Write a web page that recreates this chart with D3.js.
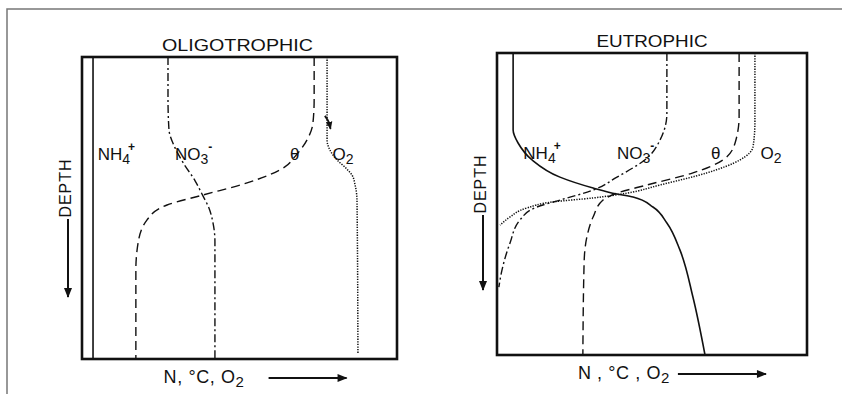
<!DOCTYPE html>
<html>
<head>
<meta charset="utf-8">
<script src="https://cdn.jsdelivr.net/npm/d3@7"></script>
<style>
  body { margin: 0; background: #fff; }
  svg { display: block; }
  text { font-family: "Liberation Sans", Arial, sans-serif; fill: #111; }
</style>
</head>
<body>
<div id="chart"></div>
<script>
// profiles as [concentration (0-100), depth (0-100)]
const oligoNH4 = [[3.5, 0], [3.5, 100]];
const oligoNO3 = [[27.3, 0], [27.3, 14], [27.6, 24], [29.5, 30], [32.1, 35], [35.9, 41], [38.4, 46], [40.3, 50], [41.6, 55], [42.2, 61], [42.2, 100]];
const oligoTheta = [[73.7, 0], [73.7, 14], [73.3, 22], [71.4, 27.5], [67.6, 33], [64.4, 36.4], [52.4, 41.7], [38.4, 45.7], [27, 49], [20.6, 54], [17.8, 61.6], [17.1, 70.5], [17.1, 100]];
const oligoO2 = [[77.8, 0], [77.8, 27.5], [78.7, 30.8], [81, 34.1], [83.8, 36.8], [85.7, 39.1], [86.7, 42.4], [87.3, 47.4], [87.6, 98]];

const eutroNH4 = [[5.2, 0], [5.2, 25.5], [6.8, 29.8], [11.3, 35.4], [20.3, 41.1], [31, 44.7], [38.7, 46.7], [43.9, 47.7], [50.3, 51], [54.8, 56.3], [59, 65.2], [63.2, 80.8], [67.1, 100]];
const eutroNO3 = [[54.8, 0], [54.8, 20], [52.6, 28.8], [48.4, 34.8], [38.7, 41.1], [31, 45.4], [20.3, 48.7], [12.9, 51], [7.4, 55.3], [4.2, 62.9], [1.6, 71.9], [0.6, 77.5]];
const eutroTheta = [[78.1, 0], [78.1, 21], [76.8, 29.8], [72.9, 35.4], [63.2, 39.7], [48.4, 43.7], [38.7, 46.4], [34.2, 48.7], [31, 54.3], [29, 60.9], [28.1, 69.5], [27.7, 100]];
const eutroO2 = [[83.2, 0], [83.2, 23], [82.6, 31], [78.4, 35.4], [67.7, 39.7], [52.6, 43.7], [41.9, 46.4], [31, 48], [18.1, 49.3], [9.7, 51.3], [4.2, 54.3], [1, 57]];

// curve names: [base, subscript, superscript, concentration, depth]
const oligoLabels = [["NH", "4", "+", 5, 34], ["NO", "3", "-", 29.5, 34], ["θ", "", "", 66, 34], ["O", "2", "", 79.5, 34]];
const eutroLabels = [["NH", "4", "+", 8.5, 35], ["NO", "3", "-", 38.7, 35], ["θ", "", "", 69, 35], ["O", "2", "", 85, 35]];

// little hook arrow next to the oligotrophic O2 profile
const oligoHook = [[77.1, 19.5], [78.3, 21.5], [78.9, 23.8]];

const width = 842, height = 394;

const svg = d3.select("#chart").append("svg")
    .attr("width", width)
    .attr("height", height);

const defs = svg.append("defs");
defs.append("marker")
    .attr("id", "head")
    .attr("viewBox", "0 0 10 10")
    .attr("refX", 9).attr("refY", 5)
    .attr("markerWidth", 8).attr("markerHeight", 8)
    .attr("markerUnits", "userSpaceOnUse")
    .attr("orient", "auto")
    .append("path")
    .attr("d", "M0,1 L10,5 L0,9 Z")
    .attr("fill", "#111");
defs.append("marker")
    .attr("id", "bighead")
    .attr("viewBox", "0 0 10 10")
    .attr("refX", 9).attr("refY", 5)
    .attr("markerWidth", 16).attr("markerHeight", 10)
    .attr("markerUnits", "userSpaceOnUse")
    .attr("orient", "auto")
    .append("path")
    .attr("d", "M0,1 L10,5 L0,9 Z")
    .attr("fill", "#111");

// scanned page frame
svg.append("path")
    .attr("d", "M7,394 L7,9 L842,9")
    .attr("fill", "none")
    .attr("stroke", "#777")
    .attr("stroke-width", 1.5);

const styles = {
    nh4: { dash: null, w: 1.6 },
    no3: { dash: "8,3,2,3", w: 1.4 },
    theta: { dash: "9,5", w: 1.4 },
    o2: { dash: "1.3,1.3", w: 1.5 }
};

function drawPanel(p) {
    const x = d3.scaleLinear().domain([0, 100]).range([p.left, p.right]);
    const y = d3.scaleLinear().domain([0, 100]).range([p.top, p.bottom]);
    const g = svg.append("g");

    const line = d3.line()
        .x(d => x(d[0]))
        .y(d => y(d[1]))
        .curve(d3.curveMonotoneY);

    p.series.forEach(s => {
        g.append("path")
            .attr("d", line(s.data))
            .attr("fill", "none")
            .attr("stroke", "#111")
            .attr("stroke-width", styles[s.kind].w)
            .attr("stroke-dasharray", styles[s.kind].dash);
    });

    // frame
    g.append("rect")
        .attr("x", p.left).attr("y", p.top)
        .attr("width", p.right - p.left)
        .attr("height", p.bottom - p.top)
        .attr("fill", "none")
        .attr("stroke", "#111")
        .attr("stroke-width", 2.6);

    g.append("text")
        .attr("x", (p.left + p.right) / 2 + p.titleShift)
        .attr("y", p.top - 6)
        .attr("text-anchor", "middle")
        .attr("font-size", 17)
        .attr("textLength", p.titleLen)
        .attr("lengthAdjust", "spacingAndGlyphs")
        .text(p.title);

    p.labels.forEach(l => {
        const t = g.append("text")
            .attr("x", x(l[3]))
            .attr("y", y(l[4]))
            .attr("font-size", 17);
        t.append("tspan").text(l[0]);
        if (l[1]) {
            t.append("tspan").attr("font-size", 14).attr("dy", 4).text(l[1]);
        }
        if (l[2]) {
            t.append("tspan").attr("font-size", 12)
                .attr("dx", l[2] === "-" ? 0 : -2).attr("dy", -13)
                .attr("font-weight", "bold").text(l[2]);
        }
    });

    // depth label with downward arrow
    g.append("text")
        .attr("transform", "translate(" + (p.left - 11) + "," + (p.top + 131) + ") rotate(-90)")
        .attr("text-anchor", "middle")
        .attr("font-size", 16)
        .attr("letter-spacing", 1)
        .text("DEPTH");
    g.append("line")
        .attr("x1", p.left - 14).attr("x2", p.left - 14)
        .attr("y1", p.top + 162).attr("y2", p.top + p.depthArrow)
        .attr("stroke", "#111")
        .attr("stroke-width", 2)
        .attr("marker-end", "url(#bighead)");

    // concentration label with arrow
    const bx = x(p.xLabelAt);
    const bt = g.append("text")
        .attr("x", bx)
        .attr("y", p.bottom + 24)
        .attr("font-size", 18)
        .attr("letter-spacing", 0.6);
    bt.append("tspan").text(p.xLabel);
    bt.append("tspan").attr("font-size", 15).attr("dy", 4).text("2");
    g.append("line")
        .attr("x1", bx + p.arrowFrom).attr("x2", bx + p.arrowTo)
        .attr("y1", p.bottom + 19).attr("y2", p.bottom + 19)
        .attr("stroke", "#111")
        .attr("stroke-width", 1.8)
        .attr("marker-end", "url(#bighead)");

    if (p.hook) {
        g.append("path")
            .attr("d", d3.line().x(d => x(d[0])).y(d => y(d[1])).curve(d3.curveNatural)(p.hook))
            .attr("fill", "none")
            .attr("stroke", "#111")
            .attr("stroke-width", 1.8)
            .attr("marker-end", "url(#head)");
    }
}

drawPanel({
    left: 82, right: 397, top: 57, bottom: 359,
    title: "OLIGOTROPHIC", titleLen: 151, titleShift: -2,
    series: [
        { kind: "nh4", data: oligoNH4 },
        { kind: "no3", data: oligoNO3 },
        { kind: "theta", data: oligoTheta },
        { kind: "o2", data: oligoO2 }
    ],
    labels: oligoLabels,
    hook: oligoHook,
    depthArrow: 240,
    xLabel: "N,  °C,  O", xLabelAt: 25.9, arrowFrom: 105, arrowTo: 183
});

drawPanel({
    left: 497, right: 807, top: 53, bottom: 355,
    title: "EUTROPHIC", titleLen: 111, titleShift: 0,
    series: [
        { kind: "nh4", data: eutroNH4 },
        { kind: "no3", data: eutroNO3 },
        { kind: "theta", data: eutroTheta },
        { kind: "o2", data: eutroO2 }
    ],
    labels: eutroLabels,
    hook: null,
    depthArrow: 237,
    xLabel: "N , °C , O", xLabelAt: 26.1, arrowFrom: 100, arrowTo: 188
});
</script>
</body>
</html>
